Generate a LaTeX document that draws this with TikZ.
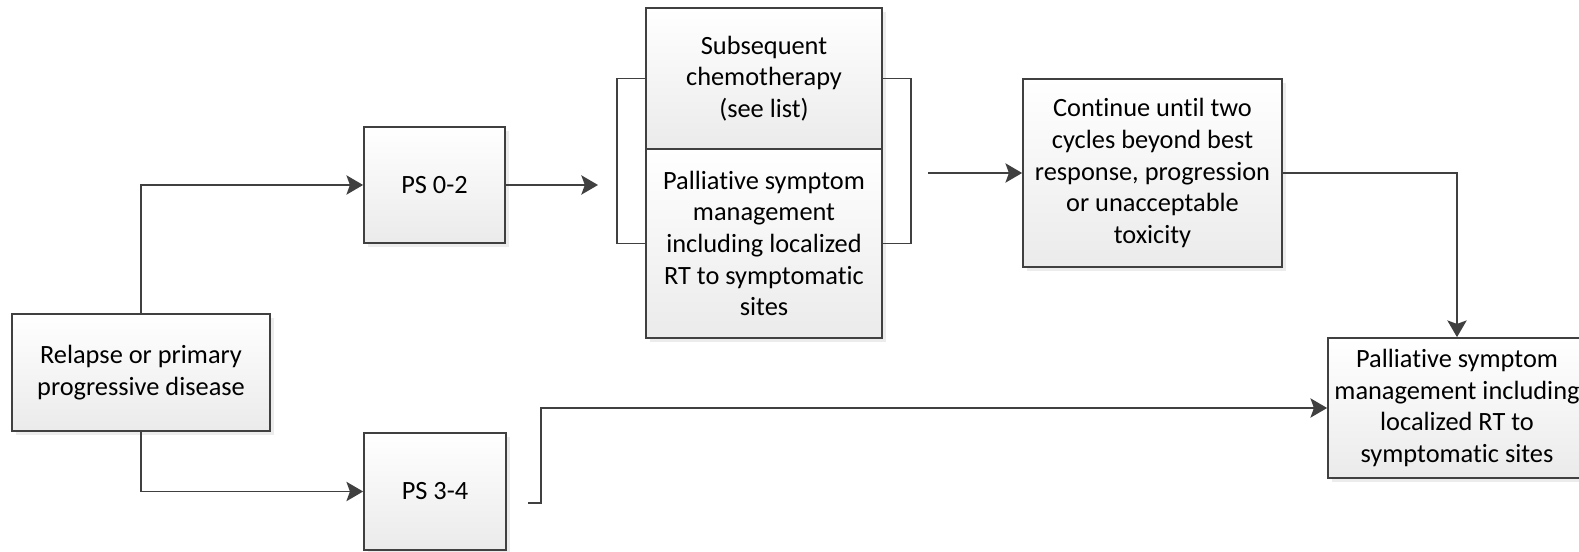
\documentclass[tikz,border=0pt]{standalone}
\usepackage{fontspec}
\setmainfont[Ligatures=NoCommon]{Carlito}
\usetikzlibrary{arrows.meta,shadows}

\begin{document}
\begin{tikzpicture}[
  font=\fontsize{15}{18}\selectfont,
  box/.style={draw=black!75, line width=1pt, rectangle, align=center,
              top color=white, bottom color=black!8, inner sep=3pt,
              drop shadow={opacity=0.15, shadow xshift=2pt, shadow yshift=-2pt}},
  arr/.style={-{Stealth[length=9.5pt,width=11pt,inset=2pt]}, line width=1pt, black!75},
  ln/.style={line width=1pt, black!75},
]

  \useasboundingbox (0,0) rectangle (31.58,-11.04);

  % --- Boxes ---
  \node[box, minimum width=5.16cm, minimum height=2.34cm] (relapse) at (2.82,-7.45)
    {Relapse or primary\\progressive disease};
  \node[box, minimum width=2.82cm, minimum height=2.32cm] (ps02) at (8.69,-3.70) {PS 0-2};
  \node[box, minimum width=2.84cm, minimum height=2.34cm] (ps34) at (8.70,-9.83) {PS 3-4};

  \node[box, minimum width=4.72cm, minimum height=2.82cm] (chemo) at (15.28,-1.57)
    {Subsequent\\chemotherapy\\(see list)};
  \node[box, minimum width=4.72cm, minimum height=3.78cm] (pall) at (15.28,-4.87)
    {Palliative symptom\\management\\including localized\\RT to symptomatic\\sites};

  \node[box, minimum width=5.18cm, minimum height=3.76cm] (cont) at (23.05,-3.46)
    {Continue until two\\cycles beyond best\\response, progression\\or unacceptable\\toxicity};
  \node[box, minimum width=5.16cm, minimum height=2.80cm] (palr) at (29.14,-8.16)
    {Palliative symptom\\management including\\localized RT to\\symptomatic sites};

  % --- Brackets round the combined treatment ---
  \draw[ln] (chemo.west) -- ++(-0.56,0) |- (pall.west);
  \draw[ln] (chemo.east) -- ++(0.56,0) |- (pall.east);

  % --- Free ends ---
  \coordinate (inA) at (11.96,-3.70);
  \coordinate (outA) at (18.56,-3.46);
  \coordinate (outB) at (10.56,-10.06);

  % --- Connectors ---
  \draw[arr] (relapse.north) |- (ps02.west);
  \draw[arr] (relapse.south) |- (ps34.west);
  \draw[arr] (ps02.east) -- (inA);
  \draw[arr] (outA) -- (cont.west);
  \draw[arr] (cont.east) -| (palr.north);
  \draw[arr] (outB) -- ++(0.26,0) |- (palr.west);

\end{tikzpicture}
\end{document}
